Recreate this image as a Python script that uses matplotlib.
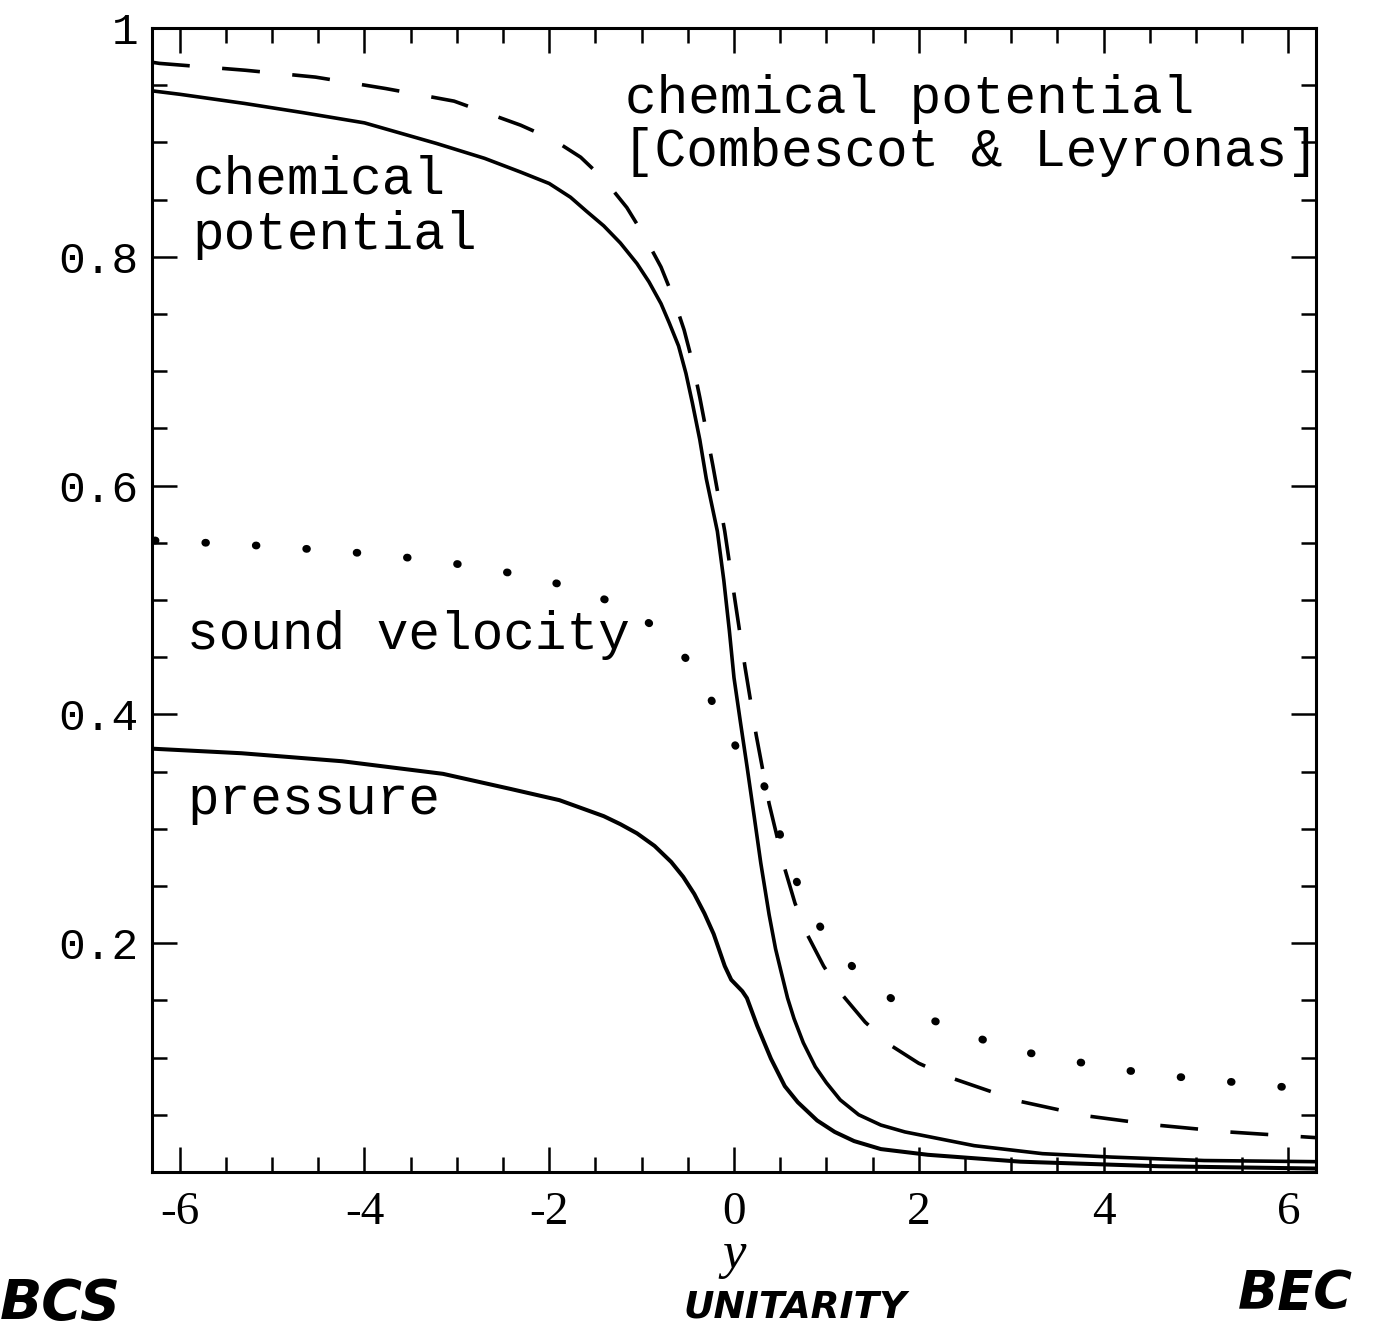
import numpy as np
import matplotlib
matplotlib.use("Agg")
import matplotlib.pyplot as plt
from matplotlib.ticker import MultipleLocator

plt.rcParams['axes.unicode_minus'] = False

# chemical potential (solid, upper)
mu_x = [-6.30, -6.00, -5.30, -4.67, -4.00, -3.22, -2.70, -2.31, -2.00, -1.77,
        -1.60, -1.41, -1.23, -1.05, -0.92, -0.79, -0.70, -0.60, -0.52, -0.45,
        -0.37, -0.30, -0.18, -0.11, -0.05, 0.00, 0.07, 0.14, 0.22, 0.29,
        0.38, 0.45, 0.51, 0.58, 0.65, 0.75, 0.88, 1.00, 1.15, 1.35,
        1.59, 1.85, 2.10, 2.60, 3.34, 4.09, 5.09, 6.30]
mu_y = [0.945, 0.942, 0.934, 0.926, 0.917, 0.899, 0.886, 0.874, 0.864, 0.852,
        0.840, 0.827, 0.812, 0.794, 0.778, 0.759, 0.742, 0.722, 0.698, 0.672,
        0.640, 0.606, 0.560, 0.517, 0.473, 0.432, 0.393, 0.355, 0.310, 0.270,
        0.225, 0.195, 0.175, 0.152, 0.134, 0.113, 0.092, 0.078, 0.063, 0.050,
        0.041, 0.035, 0.031, 0.023, 0.016, 0.013, 0.010, 0.009]

# chemical potential [Combescot & Leyronas] (dashed)
cl_x = [-6.30, -6.22, -5.29, -4.53, -3.77, -3.03, -2.31, -1.95, -1.66, -1.40,
        -1.16, -0.97, -0.79, -0.66, -0.54, -0.45, -0.37, -0.23, -0.10, 0.01,
        0.12, 0.24, 0.38, 0.55, 0.66, 0.79, 0.97, 1.17, 1.42, 1.69,
        2.00, 2.36, 3.08, 3.82, 4.57, 5.35, 6.30]
cl_y = [0.970, 0.969, 0.963, 0.957, 0.947, 0.936, 0.915, 0.902, 0.887, 0.867,
        0.843, 0.818, 0.791, 0.765, 0.736, 0.708, 0.677, 0.618, 0.560, 0.500,
        0.441, 0.382, 0.322, 0.265, 0.235, 0.208, 0.180, 0.155, 0.131, 0.111,
        0.095, 0.082, 0.062, 0.049, 0.041, 0.035, 0.030]

# sound velocity (dotted)
sv_x = [-6.27, -6.00, -5.44, -4.87, -4.33, -3.76, -3.20, -2.65, -2.12, -1.59,
        -1.33, -1.09, -0.87, -0.66, -0.48, -0.34, -0.21, -0.09, 0.04, 0.22,
        0.35, 0.51, 0.59, 0.70, 0.81, 0.96, 1.12, 1.31, 1.52, 1.75,
        1.99, 2.26, 2.52, 2.78, 3.04, 3.31, 3.59, 3.87, 4.14, 4.41,
        4.68, 4.96, 5.26, 5.55, 5.85, 6.13, 6.30]
sv_y = [0.552, 0.551, 0.549, 0.546, 0.543, 0.539, 0.534, 0.527, 0.519, 0.507,
        0.498, 0.489, 0.477, 0.462, 0.445, 0.427, 0.407, 0.388, 0.369, 0.353,
        0.334, 0.292, 0.270, 0.250, 0.230, 0.211, 0.194, 0.177, 0.162, 0.149,
        0.138, 0.129, 0.121, 0.113, 0.107, 0.102, 0.098, 0.094, 0.090, 0.087,
        0.084, 0.082, 0.080, 0.077, 0.075, 0.073, 0.072]

# pressure (solid, lower)
pr_x = [-6.30, -5.33, -4.24, -3.15, -2.43, -1.89, -1.41, -1.23, -1.05, -0.86,
        -0.68, -0.55, -0.43, -0.32, -0.22, -0.10, -0.03, 0.03, 0.09, 0.14,
        0.25, 0.40, 0.55, 0.69, 0.90, 1.09, 1.30, 1.59, 2.10, 3.10,
        4.60, 6.30]
pr_y = [0.370, 0.366, 0.359, 0.348, 0.335, 0.325, 0.311, 0.304, 0.296, 0.285,
        0.271, 0.258, 0.243, 0.226, 0.208, 0.180, 0.168, 0.163, 0.158, 0.152,
        0.128, 0.099, 0.075, 0.061, 0.045, 0.035, 0.027, 0.020, 0.015, 0.009,
        0.005, 0.003]

yticks = [0.2, 0.4, 0.6, 0.8, 1.0]
ytick_labels = ['0.2', '0.4', '0.6', '0.8', '1']
xticks = [-6, -4, -2, 0, 2, 4, 6]

mono = 'Liberation Mono'
serif = 'Liberation Serif'

fig = plt.figure(figsize=(13.78, 13.42), dpi=100)
ax = fig.add_axes([0.1103, 0.1267, 0.8447, 0.8525])

ax.plot(mu_x, mu_y, color='black', lw=2.6)
ax.plot(cl_x, cl_y, color='black', lw=2.6, linestyle=(0, (10.5, 9)))
ax.plot(sv_x, sv_y, color='black', lw=5.6, linestyle=(0, (0.1, 6.4)),
        dash_capstyle='round')
ax.plot(pr_x, pr_y, color='black', lw=2.9)

ax.set_xlim(-6.3, 6.3)
ax.set_ylim(0, 1)

ax.set_xticks(xticks)
ax.set_xticklabels([str(v) for v in xticks], family=serif, fontsize=34)
ax.set_yticks(yticks)
ax.set_yticklabels(ytick_labels, family=mono, fontsize=32)
ax.xaxis.set_minor_locator(MultipleLocator(0.5))
ax.yaxis.set_minor_locator(MultipleLocator(0.05))
ax.tick_params(which='both', direction='in', top=True, right=True, width=1.8)
ax.tick_params(which='major', length=18)
ax.tick_params(which='minor', length=11)
ax.tick_params(axis='x', which='major', pad=14)
ax.tick_params(axis='y', which='major', pad=10)
for s in ax.spines.values():
    s.set_linewidth(2.2)

ax.set_xlabel('y', family=serif, style='italic', fontsize=38, labelpad=-2)

# curve labels
ax.text(-5.86, 0.855, 'chemical', family=mono, fontsize=38, va='baseline')
ax.text(-5.86, 0.807, 'potential', family=mono, fontsize=38, va='baseline')
ax.text(-1.18, 0.926, 'chemical potential', family=mono, fontsize=38, va='baseline')
ax.text(-1.20, 0.879, '[Combescot & Leyronas]', family=mono, fontsize=38,
        va='baseline')
ax.text(-5.92, 0.457, 'sound velocity', family=mono, fontsize=38, va='baseline')
ax.text(-5.92, 0.313, 'pressure', family=mono, fontsize=38, va='baseline')

# handwritten notes below the axis
hand = ['Liberation Sans Narrow', 'DejaVu Sans']
fig.text(0.044, 0.028, 'BCS', family=hand, fontsize=40, weight='bold',
         style='italic', ha='center', va='center')
fig.text(0.577, 0.026, 'UNITARITY', family=hand, fontsize=27, weight='bold',
         style='italic', ha='center', va='center')
fig.text(0.940, 0.036, 'BEC', family=hand, fontsize=38, weight='bold',
         style='italic', ha='center', va='center')

fig.savefig('out.png', dpi=100)
